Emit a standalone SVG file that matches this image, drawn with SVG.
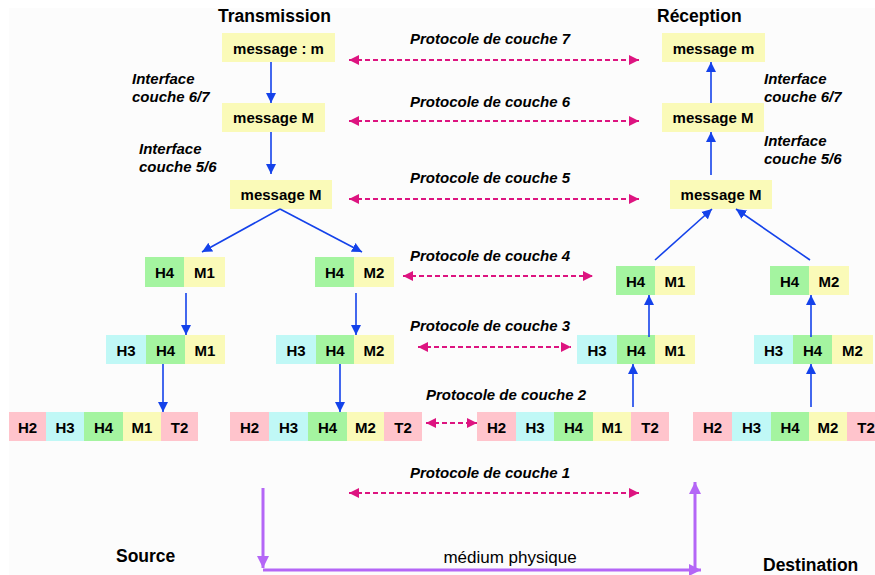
<svg xmlns="http://www.w3.org/2000/svg" width="875" height="575" viewBox="0 0 875 575">
<defs>
<marker id="ab" viewBox="0 0 10 10" markerWidth="10" markerHeight="11" refX="10" refY="5" orient="auto" markerUnits="userSpaceOnUse"><path d="M0,0 L10,5 L0,10 z" fill="#1442EA"/></marker>
<marker id="ap" viewBox="0 0 10 10" markerWidth="10" markerHeight="11" refX="10" refY="5" orient="auto-start-reverse" markerUnits="userSpaceOnUse"><path d="M0,0 L10,5 L0,10 z" fill="#DD1480"/></marker>
<marker id="av" viewBox="0 0 10 10" markerWidth="13" markerHeight="12" refX="10" refY="5" orient="auto" markerUnits="userSpaceOnUse"><path d="M0,0 L10,5 L0,10 z" fill="#B466F6"/></marker>
<style>
text{font-family:"Liberation Sans",Arial,sans-serif;fill:#000}
.t{font-size:17.5px;font-weight:bold}
.b{font-size:15px;font-weight:bold;text-anchor:middle}
.p{font-size:15px;font-weight:bold;font-style:italic}
.y{fill:#FAFAB8}.g{fill:#A4F4A0}.c{fill:#C0F8F6}.k{fill:#FFC4CC}
.bl{stroke:#1442EA;stroke-width:1.6;fill:none;marker-end:url(#ab)}
.pk{stroke:#DD1480;stroke-width:2;stroke-dasharray:5 3;fill:none;marker-start:url(#ap);marker-end:url(#ap)}
.pu{stroke:#B466F6;stroke-width:3;fill:none;marker-end:url(#av)}
</style>
</defs>
<rect x="0" y="0" width="875" height="575" fill="#FFFFFF"/>
<rect x="9" y="8" width="866" height="567" fill="#FCFCFC"/>

<g id="titles">
<text class="t" x="274.5" y="22" text-anchor="middle">Transmission</text>
<text class="t" x="657" y="22">Réception</text>
<text class="t" x="116" y="562">Source</text>
<text class="t" x="763" y="571">Destination</text>
<text x="510" y="563" font-size="17" text-anchor="middle">médium physique</text>
</g>

<g id="interfaces">
<text class="p" x="132" y="84">Interface</text>
<text class="p" x="132" y="102">couche 6/7</text>
<text class="p" x="139" y="154">Interface</text>
<text class="p" x="139" y="172">couche 5/6</text>
<text class="p" x="764" y="84">Interface</text>
<text class="p" x="764" y="102">couche 6/7</text>
<text class="p" x="764" y="146">Interface</text>
<text class="p" x="764" y="164">couche 5/6</text>
</g>

<g id="protocol-labels">
<text class="p" x="410" y="44">Protocole de couche 7</text>
<text class="p" x="410" y="107">Protocole de couche 6</text>
<text class="p" x="410" y="183">Protocole de couche 5</text>
<text class="p" x="410" y="261">Protocole de couche 4</text>
<text class="p" x="410" y="331">Protocole de couche 3</text>
<text class="p" x="426" y="400">Protocole de couche 2</text>
<text class="p" x="410" y="478">Protocole de couche 1</text>
</g>

<g id="tx-m7"><rect class="y" x="222" y="33" width="113" height="29"/><text class="b" x="278.5" y="54">message : m</text></g>
<g id="tx-m6"><rect class="y" x="222" y="103" width="103" height="29"/><text class="b" x="273.5" y="123">message M</text></g>
<g id="tx-m5"><rect class="y" x="230" y="180" width="102" height="29"/><text class="b" x="281" y="200">message M</text></g>
<g id="rx-m7"><rect class="y" x="662" y="33" width="103" height="29"/><text class="b" x="713.5" y="54">message m</text></g>
<g id="rx-m6"><rect class="y" x="662" y="103" width="102" height="29"/><text class="b" x="713" y="123">message M</text></g>
<g id="rx-m5"><rect class="y" x="670" y="180" width="102" height="29"/><text class="b" x="721" y="200">message M</text></g>

<g id="tx-l4a">
<rect class="g" x="145" y="257" width="39" height="30"/><rect class="y" x="184" y="257" width="41" height="30"/>
<text class="b" x="164.5" y="278">H4</text><text class="b" x="204.5" y="278">M1</text>
</g>
<g id="tx-l4b">
<rect class="g" x="315" y="257" width="39" height="30"/><rect class="y" x="354" y="257" width="40" height="30"/>
<text class="b" x="334.5" y="278">H4</text><text class="b" x="374" y="278">M2</text>
</g>
<g id="tx-l3a">
<rect class="c" x="106" y="335" width="40" height="29"/><rect class="g" x="146" y="335" width="39" height="29"/><rect class="y" x="185" y="335" width="40" height="29"/>
<text class="b" x="126" y="356">H3</text><text class="b" x="165.5" y="356">H4</text><text class="b" x="205" y="356">M1</text>
</g>
<g id="tx-l3b">
<rect class="c" x="276" y="335" width="40" height="29"/><rect class="g" x="316" y="335" width="38" height="29"/><rect class="y" x="354" y="335" width="40" height="29"/>
<text class="b" x="296" y="356">H3</text><text class="b" x="335" y="356">H4</text><text class="b" x="374" y="356">M2</text>
</g>
<g id="tx-l2a">
<rect class="k" x="9" y="412" width="37" height="29"/><rect class="c" x="46" y="412" width="38" height="29"/><rect class="g" x="84" y="412" width="39" height="29"/><rect class="y" x="123" y="412" width="38" height="29"/><rect class="k" x="161" y="412" width="37" height="29"/>
<text class="b" x="27.5" y="433">H2</text><text class="b" x="65" y="433">H3</text><text class="b" x="103.5" y="433">H4</text><text class="b" x="142" y="433">M1</text><text class="b" x="179.5" y="433">T2</text>
</g>
<g id="tx-l2b">
<rect class="k" x="230" y="412" width="39" height="29"/><rect class="c" x="269" y="412" width="39" height="29"/><rect class="g" x="308" y="412" width="39" height="29"/><rect class="y" x="347" y="412" width="37" height="29"/><rect class="k" x="384" y="412" width="38" height="29"/>
<text class="b" x="249.5" y="433">H2</text><text class="b" x="288.5" y="433">H3</text><text class="b" x="327.5" y="433">H4</text><text class="b" x="365.5" y="433">M2</text><text class="b" x="403" y="433">T2</text>
</g>

<g id="rx-l4a">
<rect class="g" x="616" y="266" width="39" height="29"/><rect class="y" x="655" y="266" width="40" height="29"/>
<text class="b" x="635.5" y="287">H4</text><text class="b" x="675" y="287">M1</text>
</g>
<g id="rx-l4b">
<rect class="g" x="770" y="266" width="39" height="29"/><rect class="y" x="809" y="266" width="40" height="29"/>
<text class="b" x="789.5" y="287">H4</text><text class="b" x="829" y="287">M2</text>
</g>
<g id="rx-l3a">
<rect class="c" x="577" y="335" width="40" height="29"/><rect class="g" x="617" y="335" width="38" height="29"/><rect class="y" x="655" y="335" width="40" height="29"/>
<text class="b" x="597" y="356">H3</text><text class="b" x="636" y="356">H4</text><text class="b" x="675" y="356">M1</text>
</g>
<g id="rx-l3b">
<rect class="c" x="754" y="335" width="39" height="29"/><rect class="g" x="793" y="335" width="39" height="29"/><rect class="y" x="832" y="335" width="41" height="29"/>
<text class="b" x="773.5" y="356">H3</text><text class="b" x="812.5" y="356">H4</text><text class="b" x="852.5" y="356">M2</text>
</g>
<g id="rx-l2a">
<rect class="k" x="477" y="412" width="39" height="29"/><rect class="c" x="516" y="412" width="38" height="29"/><rect class="g" x="554" y="412" width="39" height="29"/><rect class="y" x="593" y="412" width="38" height="29"/><rect class="k" x="631" y="412" width="38" height="29"/>
<text class="b" x="496.5" y="433">H2</text><text class="b" x="535" y="433">H3</text><text class="b" x="573.5" y="433">H4</text><text class="b" x="612" y="433">M1</text><text class="b" x="650" y="433">T2</text>
</g>
<g id="rx-l2b">
<rect class="k" x="693" y="412" width="39" height="29"/><rect class="c" x="732" y="412" width="39" height="29"/><rect class="g" x="771" y="412" width="38" height="29"/><rect class="y" x="809" y="412" width="38" height="29"/><rect class="k" x="847" y="412" width="38" height="29"/>
<text class="b" x="712.5" y="433">H2</text><text class="b" x="751.5" y="433">H3</text><text class="b" x="790" y="433">H4</text><text class="b" x="828" y="433">M2</text><text class="b" x="866" y="433">T2</text>
</g>

<g id="connectors">
<line class="bl" x1="271" y1="62" x2="271" y2="103"/>
<line class="bl" x1="271" y1="132" x2="271" y2="174"/>
<line class="bl" x1="280" y1="209" x2="202" y2="252"/>
<line class="bl" x1="280" y1="209" x2="362" y2="252"/>
<line class="bl" x1="186" y1="293" x2="186" y2="335"/>
<line class="bl" x1="356" y1="293" x2="356" y2="335"/>
<line class="bl" x1="163" y1="364" x2="163" y2="412"/>
<line class="bl" x1="340" y1="364" x2="340" y2="412"/>
<line class="bl" x1="711" y1="103" x2="711" y2="62"/>
<line class="bl" x1="711" y1="175" x2="711" y2="132"/>
<line class="bl" x1="655" y1="260" x2="712" y2="209"/>
<line class="bl" x1="810" y1="260" x2="736" y2="209"/>
<line class="bl" x1="649" y1="337" x2="649" y2="295"/>
<line class="bl" x1="633" y1="407" x2="633" y2="364"/>
<line class="bl" x1="811" y1="337" x2="811" y2="295"/>
<line class="bl" x1="811" y1="407" x2="811" y2="364"/>
<line class="pk" x1="349" y1="60" x2="639" y2="60"/>
<line class="pk" x1="349" y1="121" x2="639" y2="121"/>
<line class="pk" x1="349" y1="199" x2="639" y2="199"/>
<line class="pk" x1="403" y1="276" x2="593" y2="276"/>
<line class="pk" x1="418" y1="347" x2="571" y2="347"/>
<line class="pk" x1="426" y1="423" x2="477" y2="423"/>
<line class="pk" x1="349" y1="493" x2="639" y2="493"/>
<line class="pu" x1="263" y1="488" x2="263" y2="568"/>
<polyline class="pu" points="263,570 701,570"/>
<line class="pu" x1="695" y1="570" x2="695" y2="482"/>
</g>
</svg>
